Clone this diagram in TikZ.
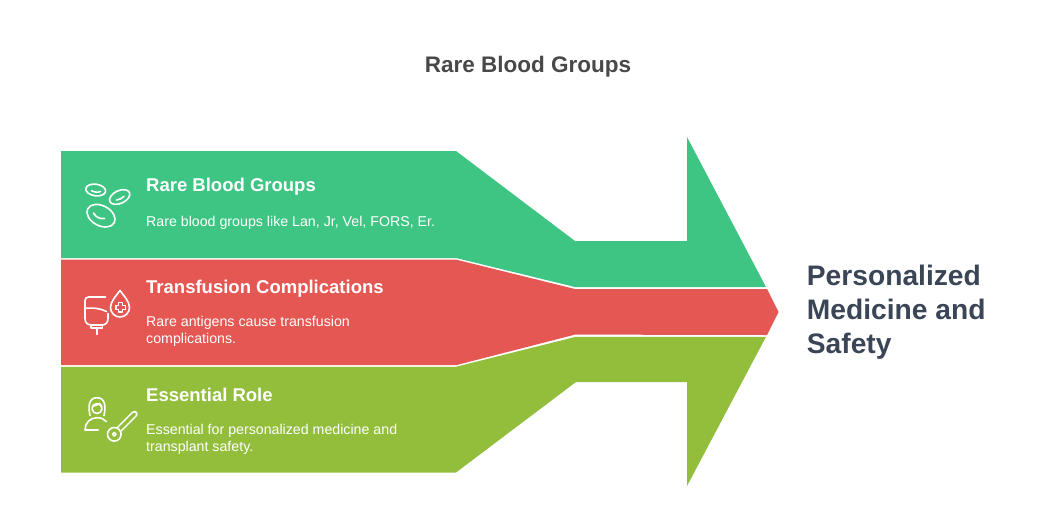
\documentclass[tikz,border=0pt]{standalone}
\usepackage{fontspec}
\setmainfont{Liberation Sans}
\definecolor{cgreen}{HTML}{3EC583}
\definecolor{cred}{HTML}{E55753}
\definecolor{cyg}{HTML}{92BE3B}
\definecolor{ctitle}{HTML}{484848}
\definecolor{cdark}{HTML}{3A4556}
\begin{document}
\begin{tikzpicture}[x=1pt,y=-1pt,
  titletext/.style={inner sep=0pt,anchor=base,text=ctitle,font=\fontsize{22.5}{27}\selectfont\bfseries},
  headtext/.style={inner sep=0pt,anchor=base west,text=white,font=\fontsize{18.5}{22}\selectfont\bfseries},
  bodytext/.style={inner sep=0pt,anchor=base west,text=white,align=left,font=\fontsize{14.2}{17.4}\selectfont},
  goaltext/.style={inner sep=0pt,anchor=base west,text=cdark,align=left,font=\fontsize{28.2}{33.7}\selectfont\bfseries},
  icon/.style={draw=white,line width=1.6pt,line cap=round,line join=round}
]
\useasboundingbox (0,0) rectangle (1056,515);

% bands
\fill[cgreen] (61,151) -- (456,151) -- (575,241) -- (687,241) -- (687,137) -- (766,287) -- (575,287) -- (456,258) -- (61,258) -- cycle;
\fill[cred] (61,259.6) -- (456,259.6) -- (575,289) -- (767,289) -- (778.6,312) -- (767,335) -- (575,334.6) -- (456,365.2) -- (61,365.2) -- cycle;
\fill[cyg] (61,366.8) -- (456,366.8) -- (576,336.8) -- (766,336.8) -- (687,486) -- (687,382) -- (576,382) -- (456,472.5) -- (61,472.5) -- cycle;

% title
\node[titletext] (title) at (528,72.7) {Rare Blood Groups};

% texts (multi-line nodes: base = last line)
\node[headtext] (h1) at (146,191.7) {Rare Blood Groups};
\node[bodytext] (b1) at (146,226.7) {Rare blood groups like Lan, Jr, Vel, FORS, Er.};
\node[headtext] (h2) at (146,293.3) {Transfusion Complications};
\node[bodytext] (b2) at (146,343.4) {Rare antigens cause transfusion\\complications.};
\node[headtext] (h3) at (146,401.7) {Essential Role};
\node[bodytext] (b3) at (146,451.6) {Essential for personalized medicine and\\transplant safety.};

\node[goaltext] (goal) at (806.7,353.1) {Personalized\\Medicine and\\Safety};

% icon 1: blood cells
\begin{scope}[icon]
  \draw (95.7,190) ellipse [x radius=10pt, y radius=5.8pt, rotate=-8];
  \draw (91.5,190.5) .. controls (94,192.5) and (98,192.5) .. (100.5,191.5);
  \draw[rotate around={25:(119.7,197)}] (119.7,197) ellipse [x radius=10.8pt, y radius=6.4pt];
  \draw (116.5,200) .. controls (119,199.8) and (122,198.5) .. (124,196.3);
  \draw[rotate around={-28:(101,215.7)}] (101,215.7) ellipse [x radius=15pt, y radius=10pt];
  \draw (93.5,213) .. controls (96,217.5) and (100,219) .. (104.5,218.5);
\end{scope}

% icon 2: IV bag and drop
\begin{scope}[icon]
  \draw (105.5,297) -- (88.5,297) .. controls (86.5,297) and (85,298.5) .. (85,300.5) -- (85,318.5)
        .. controls (85,322.5) and (87.5,325) .. (91.5,325) -- (102,325)
        .. controls (105.5,325) and (108,322.5) .. (108,319) -- (108,313.5);
  \draw (85,308.3) .. controls (93,307.5) and (101,308.5) .. (106.5,311.5);
  \draw (91,325) -- (91,328) -- (102.5,328) -- (102.5,325);
  \draw (96.7,328) -- (96.7,334.3);
  \draw (120,290.5) .. controls (124,296) and (129.5,301.5) .. (129.5,307.5)
        .. controls (129.5,312.7) and (125.2,317) .. (120,317)
        .. controls (114.8,317) and (110.5,312.7) .. (110.5,307.5)
        .. controls (110.5,301.5) and (116,296) .. (120,290.5) -- cycle;
  \draw (118.5,302.5) -- (122.5,302.5) -- (122.5,305.3) -- (125.3,305.3) -- (125.3,309.3) -- (122.5,309.3)
        -- (122.5,312.1) -- (118.5,312.1) -- (118.5,309.3) -- (115.7,309.3) -- (115.7,305.3) -- (118.5,305.3) -- cycle;
\end{scope}

% icon 3: person and key
\begin{scope}[icon]
  \draw (90,415.5) .. controls (89,411) and (89,407) .. (89.3,404.5)
        .. controls (90,400) and (93,397.7) .. (97,397.7)
        .. controls (101,397.7) and (104,400) .. (104.7,404.5)
        .. controls (105,407) and (105,411) .. (104,415.5);
  \draw (97,408.5) circle [radius=5pt];
  \draw (92.3,406.5) .. controls (95,406) and (98,404.5) .. (99.5,403.5);
  \draw (99.5,403.5) .. controls (100.5,405) and (101.5,406) .. (101.8,406.5);
  \draw (98.3,430) -- (85,430) .. controls (85,423) and (90,417.7) .. (97,417.7)
        .. controls (101,417.7) and (104,419) .. (106.3,421.5);
  % key shaft
  \draw[line width=6.6pt] (117,431.5) -- (134.5,414);
  \draw[draw=cyg,line width=3.4pt] (117,431.5) -- (134.5,414);
  \draw[fill=cyg] (114.3,434.3) circle [radius=6.8pt];
  \draw (114.3,434.3) circle [radius=1.8pt];
\end{scope}
\end{tikzpicture}
\end{document}
